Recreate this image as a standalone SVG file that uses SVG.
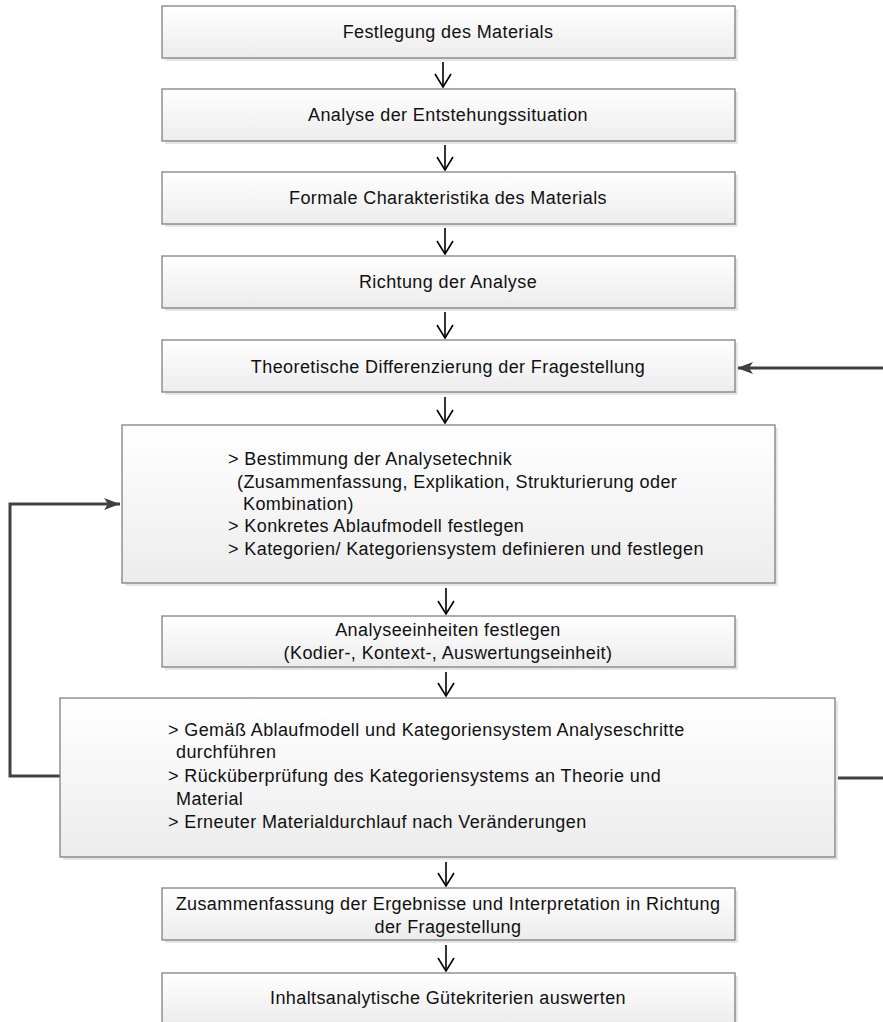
<svg xmlns="http://www.w3.org/2000/svg" width="883" height="1022" viewBox="0 0 883 1022">
<defs>
<linearGradient id="g" x1="0" y1="0" x2="0" y2="1">
<stop offset="0" stop-color="#ffffff"/>
<stop offset="1" stop-color="#ececec"/>
</linearGradient>
<marker id="open" viewBox="0 0 15 18" refX="14" refY="9" markerWidth="15" markerHeight="18" markerUnits="userSpaceOnUse" orient="auto">
<path d="M1,1 L14,9 L1,17" fill="none" stroke="#000" stroke-width="1.6"/>
</marker>
<marker id="solid" viewBox="0 0 16 12" refX="16" refY="6" markerWidth="16" markerHeight="12" markerUnits="userSpaceOnUse" orient="auto">
<path d="M0,0 L16,6 L0,12 L4,6 Z" fill="#404040"/>
</marker>
</defs>
<style>
.box{fill:url(#g);stroke:#808080;stroke-width:1.3}
.sh{fill:#e6e6e6}
text{font-family:"Liberation Sans",Arial,sans-serif;font-size:18px;letter-spacing:0.4px;fill:#111}
.c{text-anchor:middle}
.thin{stroke:#000;stroke-width:1.6;fill:none;marker-end:url(#open)}
.thick{stroke:#404040;stroke-width:3;fill:none}
</style>
<g id="connectors">
<line class="thin" x1="443" y1="62" x2="443" y2="87"/>
<line class="thin" x1="445" y1="145" x2="445" y2="170"/>
<line class="thin" x1="445" y1="228" x2="445" y2="254"/>
<line class="thin" x1="445" y1="312" x2="445" y2="338"/>
<line class="thin" x1="445" y1="397" x2="445" y2="423"/>
<line class="thin" x1="446" y1="588" x2="446" y2="614"/>
<line class="thin" x1="446" y1="672" x2="446" y2="696"/>
<line class="thin" x1="446" y1="862" x2="446" y2="886"/>
<line class="thin" x1="446" y1="945" x2="446" y2="971"/>
<line class="thick" x1="883" y1="368" x2="737" y2="368" style="marker-end:url(#solid)"/>
<polyline class="thick" points="60,776 10,776 10,504 120,504" style="marker-end:url(#solid)"/>
<line class="thick" x1="835" y1="778" x2="883" y2="778"/>
</g>
<g id="n1"><rect class="sh" x="165" y="9" width="573" height="52"/><rect class="box" x="162" y="6" width="573" height="52"/><text class="c" x="448" y="38">Festlegung des Materials</text></g>
<g id="n2"><rect class="sh" x="165" y="92" width="573" height="52"/><rect class="box" x="162" y="89" width="573" height="52"/><text class="c" x="448" y="121">Analyse der Entstehungssituation</text></g>
<g id="n3"><rect class="sh" x="165" y="175" width="573" height="52"/><rect class="box" x="162" y="172" width="573" height="52"/><text class="c" x="448" y="204">Formale Charakteristika des Materials</text></g>
<g id="n4"><rect class="sh" x="165" y="259" width="573" height="52"/><rect class="box" x="162" y="256" width="573" height="52"/><text class="c" x="448" y="288">Richtung der Analyse</text></g>
<g id="n5"><rect class="sh" x="165" y="343" width="573" height="52"/><rect class="box" x="162" y="340" width="573" height="52"/><text class="c" x="448" y="373">Theoretische Differenzierung der Fragestellung</text></g>
<g id="n6"><rect class="sh" x="125" y="428" width="653" height="158"/><rect class="box" x="122" y="425" width="653" height="158"/>
<text x="228" y="465">&gt; Bestimmung der Analysetechnik</text>
<text x="237" y="488">(Zusammenfassung, Explikation, Strukturierung oder</text>
<text x="243" y="510">Kombination)</text>
<text x="228" y="532">&gt; Konkretes Ablaufmodell festlegen</text>
<text x="228" y="555">&gt; Kategorien/ Kategoriensystem definieren und festlegen</text></g>
<g id="n7"><rect class="sh" x="165" y="619" width="573" height="51"/><rect class="box" x="162" y="616" width="573" height="51"/><text class="c" x="448" y="636">Analyseeinheiten festlegen</text><text class="c" x="448" y="659">(Kodier-, Kontext-, Auswertungseinheit)</text></g>
<g id="n8"><rect class="sh" x="63" y="701" width="775" height="159"/><rect class="box" x="60" y="698" width="775" height="159"/>
<text x="168" y="736">&gt; Gemäß Ablaufmodell und Kategoriensystem Analyseschritte</text>
<text x="176" y="758">durchführen</text>
<text x="168" y="782">&gt; Rücküberprüfung des Kategoriensystems an Theorie und</text>
<text x="176" y="805">Material</text>
<text x="168" y="828">&gt; Erneuter Materialdurchlauf nach Veränderungen</text></g>
<g id="n9"><rect class="sh" x="165" y="891" width="573" height="52"/><rect class="box" x="162" y="888" width="573" height="52"/><text class="c" x="448" y="910">Zusammenfassung der Ergebnisse und Interpretation in Richtung</text><text class="c" x="448" y="933">der Fragestellung</text></g>
<g id="n10"><rect class="sh" x="165" y="976" width="573" height="52"/><rect class="box" x="162" y="973" width="573" height="52"/><text class="c" x="448" y="1004">Inhaltsanalytische Gütekriterien auswerten</text></g>
</svg>
